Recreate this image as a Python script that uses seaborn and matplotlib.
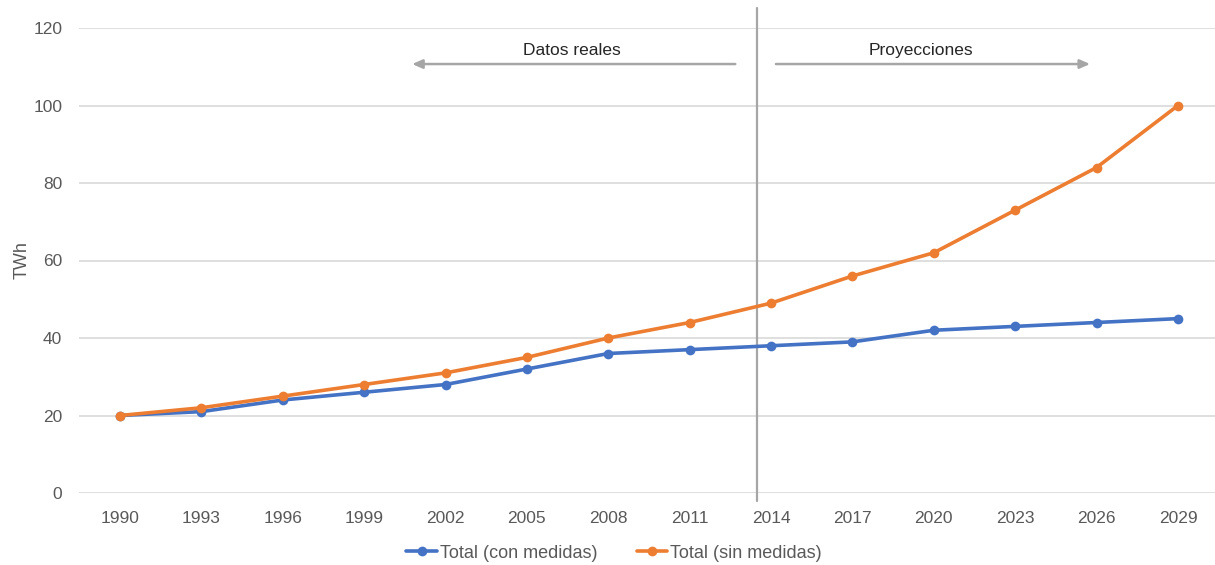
import matplotlib
matplotlib.use("Agg")
import matplotlib.pyplot as plt
import seaborn as sns
import pandas as pd

years = ["1990", "1993", "1996", "1999", "2002", "2005", "2008",
         "2011", "2014", "2017", "2020", "2023", "2026", "2029"]
con_medidas = [20, 21, 24, 26, 28, 32, 36, 37, 38, 39, 42, 43, 44, 45]
sin_medidas = [20, 22, 25, 28, 31, 35, 40, 44, 49, 56, 62, 73, 84, 100]
series_names = ["Total (con medidas)", "Total (sin medidas)"]
y_ticks = [0, 20, 40, 60, 80, 100, 120]

sns.set_theme(style="white")
plt.rcParams["font.family"] = ["Liberation Sans", "DejaVu Sans"]
text_color = "#595959"

df = pd.DataFrame({
    "year": years * 2,
    "value": con_medidas + sin_medidas,
    "serie": [series_names[0]] * len(years) + [series_names[1]] * len(years),
})
df["pos"] = list(range(len(years))) * 2

fig = plt.figure(figsize=(12.15, 5.65), dpi=100)
ax = fig.add_axes([79 / 1215, 1 - 493 / 565, 1 - 79 / 1215, (493 - 28) / 565])

sns.lineplot(data=df, x="pos", y="value", hue="serie",
             palette=["#4472C4", "#ED7D31"], marker="o", markersize=7,
             markeredgewidth=0, linewidth=2.6, ax=ax, legend=True, zorder=3)

ax.set_xlim(-0.504, 13.455)
ax.set_ylim(0, 120)
ax.set_yticks(y_ticks)
ax.set_xticks(range(len(years)))
ax.set_xticklabels(years)
ax.yaxis.grid(True, color="#D9D9D9", linewidth=1.2)
ax.xaxis.grid(False)
for s in ax.spines.values():
    s.set_visible(False)
ax.tick_params(axis="x", length=0, labelsize=12.5, colors=text_color, pad=13)
ax.tick_params(axis="y", length=0, labelsize=12.5, colors=text_color, pad=12)
ax.set_xlabel("")
ax.set_ylabel("TWh", fontsize=13, color=text_color, labelpad=2)

# Divider between historical data and projections
div_x = 7.83
ax.plot([div_x, div_x], [-2, 125.2], color="#A6A6A6", linewidth=1.6,
        clip_on=False, zorder=2)

arrow_kw = dict(arrowstyle="-|>,head_length=0.5,head_width=0.22",
                color="#A6A6A6", linewidth=1.8, shrinkA=0, shrinkB=0)
ax.annotate("", xy=(3.59, 110.7), xytext=(7.56, 110.7), arrowprops=arrow_kw)
ax.annotate("", xy=(11.92, 110.7), xytext=(8.06, 110.7), arrowprops=arrow_kw)
ax.text(5.55, 114.3, "Datos reales", ha="center", va="center",
        fontsize=12.5, color="#262626")
ax.text(9.84, 114.3, "Proyecciones", ha="center", va="center",
        fontsize=12.5, color="#262626")

handles, labels = ax.get_legend_handles_labels()
ax.legend(handles, labels, loc="center", bbox_to_anchor=(614 / 1215, 1 - 553 / 565),
          bbox_transform=fig.transFigure,
          ncol=2, frameon=False, fontsize=13, labelcolor=text_color,
          handlelength=1.7, handletextpad=0.15, columnspacing=2.2)

fig.savefig("out.png", dpi=100)
